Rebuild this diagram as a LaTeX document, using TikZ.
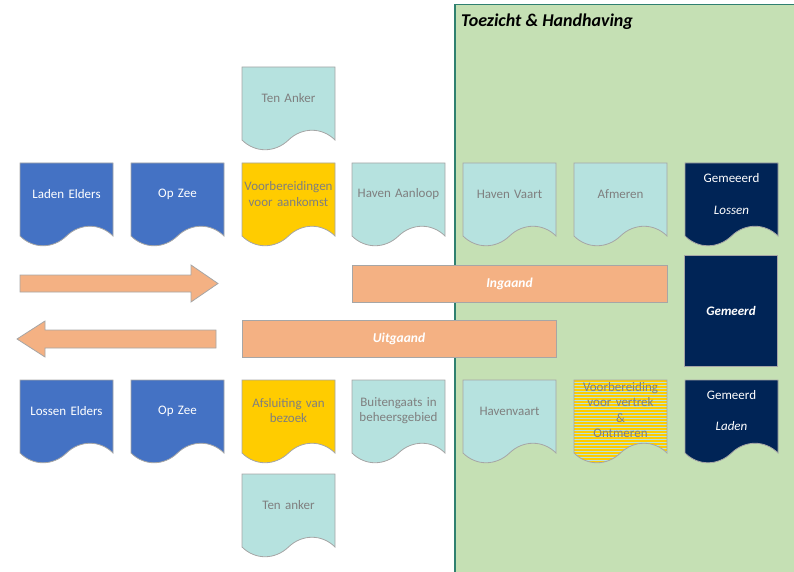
\documentclass[tikz,border=0pt]{standalone}
\usepackage{fontspec}
\setmainfont{Carlito}
\usepackage{tikz}

\definecolor{docblue}{HTML}{4472C4}
\definecolor{docgold}{HTML}{FFCC00}
\definecolor{docteal}{HTML}{B6E2DF}
\definecolor{docnavy}{HTML}{002456}
\definecolor{barorange}{HTML}{F4B183}
\definecolor{zonegreen}{HTML}{C5E0B4}
\definecolor{zoneline}{HTML}{2F8070}
\definecolor{edgegray}{HTML}{A6A6A6}
\definecolor{textgray}{HTML}{7F7F7F}

% document shape, top left corner at (0,0)
\newcommand{\docpath}{(0,0) -- (93,0) -- (93,73) .. controls (80,60) and (60,60) .. (46.5,73) .. controls (33,86) and (13,86) .. (0,73) -- cycle}

\begin{document}
\begin{tikzpicture}[x=1pt, y=-1pt,
	docbox/.style={draw=edgegray, line width=0.8pt},
	lbl/.style={text width=90pt, align=center, inner sep=0pt, font=\fontsize{13}{15.5}\selectfont},
	bar/.style={draw=edgegray, line width=0.8pt, fill=barorange},
	barlbl/.style={text=white, font=\fontsize{13.5}{15}\selectfont\bfseries\itshape}]
	\useasboundingbox (0,0) rectangle (794,572);
	%% toezicht zone
	\fill[zonegreen] (455,4.5) rectangle (794,572);
	\draw[zoneline, line width=1.4pt] (455,572) -- (455,4.5) -- (794,4.5);
	\node[anchor=west, inner sep=0pt, font=\fontsize{18}{20}\selectfont\bfseries\itshape] (zone) at (461,21.5) {Toezicht \& Handhaving};
	%% row 1
	\filldraw[docbox, fill=docteal, shift={(242,67)}] \docpath;
	\node[lbl, text=textgray] (tenAnkerIn) at (288.5,98) {Ten Anker};
	\filldraw[docbox, fill=docblue, shift={(20,163)}] \docpath;
	\node[lbl, text=white] (ladenElders) at (66.5,194) {Laden Elders};
	\filldraw[docbox, fill=docblue, shift={(131,163)}] \docpath;
	\node[lbl, text=white] (opZeeIn) at (177.5,194) {Op Zee};
	\filldraw[docbox, fill=docgold, shift={(242,163)}] \docpath;
	\node[lbl, text=textgray] (aankomst) at (288.5,194) {Voorbereidingen\\voor aankomst};
	\filldraw[docbox, fill=docteal, shift={(352,163)}] \docpath;
	\node[lbl, text=textgray] (aanloop) at (398.5,194) {Haven Aanloop};
	\filldraw[docbox, fill=docteal, shift={(463,163)}] \docpath;
	\node[lbl, text=textgray] (vaartIn) at (509.5,194) {Haven Vaart};
	\filldraw[docbox, fill=docteal, shift={(574,163)}] \docpath;
	\node[lbl, text=textgray] (afmeren) at (620.5,194) {Afmeren};
	\filldraw[docbox, fill=docnavy, shift={(685,163)}] \docpath;
	\node[lbl, text=white] (lossen) at (731.5,194) {Gemeeerd\\[16pt]\textit{Lossen}};
	%% arrows and bars
	\filldraw[bar] (20,275) -- (191,275) -- (191,265) -- (218,283.5) -- (191,302) -- (191,292) -- (20,292) -- cycle;
	\filldraw[bar] (216,330) -- (45,330) -- (45,321) -- (17,339) -- (45,357) -- (45,348) -- (216,348) -- cycle;
	\node[bar, minimum width=315pt, minimum height=37pt, inner sep=0pt] (ingaand) at (509.5,283.5) {};
	\node[barlbl] at (ingaand) {Ingaand};
	\node[bar, minimum width=314pt, minimum height=37pt, inner sep=0pt] (uitgaand) at (399,338.5) {};
	\node[barlbl] at (uitgaand) {Uitgaand};
	\node[draw=edgegray, line width=0.8pt, fill=docnavy, minimum width=93pt, minimum height=111pt, inner sep=0pt,
		text=white, font=\fontsize{13}{15}\selectfont\bfseries\itshape] (gemeerd) at (731,310.5) {Gemeerd};
	%% row 3
	\filldraw[docbox, fill=docblue, shift={(20,380)}] \docpath;
	\node[lbl, text=white] (lossenElders) at (66.5,411) {Lossen Elders};
	\filldraw[docbox, fill=docblue, shift={(131,380)}] \docpath;
	\node[lbl, text=white] (opZeeUit) at (177.5,411) {Op Zee};
	\filldraw[docbox, fill=docgold, shift={(242,380)}] \docpath;
	\node[lbl, text=textgray] (afsluiting) at (288.5,410.5) {Afsluiting van\\bezoek};
	\filldraw[docbox, fill=docteal, shift={(352,380)}] \docpath;
	\node[lbl, text=textgray] (buitengaats) at (398.5,410.5) {Buitengaats in\\beheersgebied};
	\filldraw[docbox, fill=docteal, shift={(463,380)}] \docpath;
	\node[lbl, text=textgray] (vaartUit) at (509.5,411) {Havenvaart};
	\begin{scope}
	\clip[shift={(574,380)}] \docpath;
	\fill[docteal] (574,380) rectangle (667,470);
	\foreach \y in {381,384,...,470}
		\draw[docgold, line width=1.5pt] (574,\y) -- (667,\y);
	\end{scope}
	\draw[docbox, shift={(574,380)}] \docpath;
	\node[lbl, text=textgray] (vertrek) at (620.5,410) {Voorbereiding\\voor vertrek\\\&\\Ontmeren};
	\filldraw[docbox, fill=docnavy, shift={(685,380)}] \docpath;
	\node[lbl, text=white] (laden) at (731.5,410.5) {Gemeerd\\[16pt]\textit{Laden}};
	%% row 4
	\filldraw[docbox, fill=docteal, shift={(242,474)}] \docpath;
	\node[lbl, text=textgray] (tenAnkerUit) at (288.5,505) {Ten anker};
\end{tikzpicture}
\end{document}
